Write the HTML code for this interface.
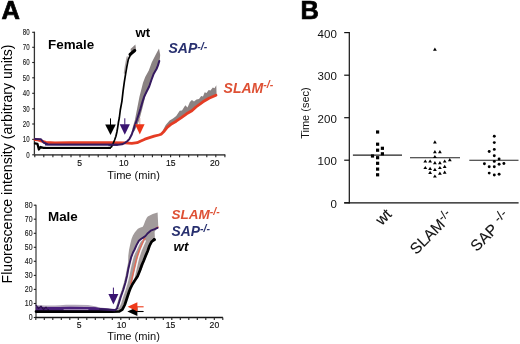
<!DOCTYPE html>
<html><head><meta charset="utf-8"><style>
html,body{margin:0;padding:0;background:#fff;}
svg{display:block;filter:blur(0.3px);}
text{font-family:"Liberation Sans", sans-serif;}
</style></head><body>
<svg width="520" height="344" viewBox="0 0 520 344" font-family='"Liberation Sans", sans-serif'>
<rect width="520" height="344" fill="#fff"/>
<text x="1.5" y="18.6" font-size="25.5" font-weight="bold" stroke="#000" stroke-width="0.7">A</text>
<text x="300.6" y="18.6" font-size="25.5" font-weight="bold" stroke="#000" stroke-width="0.7">B</text>
<text transform="translate(12.2,164) rotate(-90)" text-anchor="middle" font-size="14.1">Fluorescence intensity (arbitrary units)</text>
<line x1="34.4" y1="31.7" x2="34.4" y2="154.8" stroke="#333" stroke-width="1.3"/>
<line x1="33.9" y1="154.8" x2="225.3" y2="154.8" stroke="#5a5a5a" stroke-width="1.7"/>
<line x1="32.2" y1="154.8" x2="34.4" y2="154.8" stroke="#222" stroke-width="1.1"/>
<text transform="translate(29.6,157.7) scale(0.66,1)" text-anchor="end" font-size="9.3" fill="#222" stroke="#222" stroke-width="0.15">0</text>
<line x1="32.2" y1="139.4" x2="34.4" y2="139.4" stroke="#222" stroke-width="1.1"/>
<text transform="translate(29.6,142.3) scale(0.66,1)" text-anchor="end" font-size="9.3" fill="#222" stroke="#222" stroke-width="0.15">10</text>
<line x1="32.2" y1="124.0" x2="34.4" y2="124.0" stroke="#222" stroke-width="1.1"/>
<text transform="translate(29.6,126.9) scale(0.66,1)" text-anchor="end" font-size="9.3" fill="#222" stroke="#222" stroke-width="0.15">20</text>
<line x1="32.2" y1="108.8" x2="34.4" y2="108.8" stroke="#222" stroke-width="1.1"/>
<text transform="translate(29.6,111.7) scale(0.66,1)" text-anchor="end" font-size="9.3" fill="#222" stroke="#222" stroke-width="0.15">30</text>
<line x1="32.2" y1="93.3" x2="34.4" y2="93.3" stroke="#222" stroke-width="1.1"/>
<text transform="translate(29.6,96.2) scale(0.66,1)" text-anchor="end" font-size="9.3" fill="#222" stroke="#222" stroke-width="0.15">40</text>
<line x1="32.2" y1="77.8" x2="34.4" y2="77.8" stroke="#222" stroke-width="1.1"/>
<text transform="translate(29.6,80.7) scale(0.66,1)" text-anchor="end" font-size="9.3" fill="#222" stroke="#222" stroke-width="0.15">50</text>
<line x1="32.2" y1="62.5" x2="34.4" y2="62.5" stroke="#222" stroke-width="1.1"/>
<text transform="translate(29.6,65.4) scale(0.66,1)" text-anchor="end" font-size="9.3" fill="#222" stroke="#222" stroke-width="0.15">60</text>
<line x1="32.2" y1="47.3" x2="34.4" y2="47.3" stroke="#222" stroke-width="1.1"/>
<text transform="translate(29.6,50.2) scale(0.66,1)" text-anchor="end" font-size="9.3" fill="#222" stroke="#222" stroke-width="0.15">70</text>
<line x1="32.2" y1="32.3" x2="34.4" y2="32.3" stroke="#222" stroke-width="1.1"/>
<text transform="translate(29.6,35.2) scale(0.66,1)" text-anchor="end" font-size="9.3" fill="#222" stroke="#222" stroke-width="0.15">80</text>
<line x1="34.8" y1="154.8" x2="34.8" y2="157.2" stroke="#222" stroke-width="1.1"/>
<line x1="43.8" y1="154.8" x2="43.8" y2="157.2" stroke="#222" stroke-width="1.1"/>
<line x1="52.9" y1="154.8" x2="52.9" y2="157.2" stroke="#222" stroke-width="1.1"/>
<line x1="62.0" y1="154.8" x2="62.0" y2="157.2" stroke="#222" stroke-width="1.1"/>
<line x1="71.0" y1="154.8" x2="71.0" y2="157.2" stroke="#222" stroke-width="1.1"/>
<line x1="80.0" y1="154.8" x2="80.0" y2="157.2" stroke="#222" stroke-width="1.1"/>
<line x1="89.1" y1="154.8" x2="89.1" y2="157.2" stroke="#222" stroke-width="1.1"/>
<line x1="98.2" y1="154.8" x2="98.2" y2="157.2" stroke="#222" stroke-width="1.1"/>
<line x1="107.2" y1="154.8" x2="107.2" y2="157.2" stroke="#222" stroke-width="1.1"/>
<line x1="116.2" y1="154.8" x2="116.2" y2="157.2" stroke="#222" stroke-width="1.1"/>
<line x1="125.3" y1="154.8" x2="125.3" y2="157.2" stroke="#222" stroke-width="1.1"/>
<line x1="134.4" y1="154.8" x2="134.4" y2="157.2" stroke="#222" stroke-width="1.1"/>
<line x1="143.4" y1="154.8" x2="143.4" y2="157.2" stroke="#222" stroke-width="1.1"/>
<line x1="152.4" y1="154.8" x2="152.4" y2="157.2" stroke="#222" stroke-width="1.1"/>
<line x1="161.5" y1="154.8" x2="161.5" y2="157.2" stroke="#222" stroke-width="1.1"/>
<line x1="170.6" y1="154.8" x2="170.6" y2="157.2" stroke="#222" stroke-width="1.1"/>
<line x1="179.6" y1="154.8" x2="179.6" y2="157.2" stroke="#222" stroke-width="1.1"/>
<line x1="188.7" y1="154.8" x2="188.7" y2="157.2" stroke="#222" stroke-width="1.1"/>
<line x1="197.7" y1="154.8" x2="197.7" y2="157.2" stroke="#222" stroke-width="1.1"/>
<line x1="206.8" y1="154.8" x2="206.8" y2="157.2" stroke="#222" stroke-width="1.1"/>
<line x1="215.8" y1="154.8" x2="215.8" y2="157.2" stroke="#222" stroke-width="1.1"/>
<line x1="224.9" y1="154.8" x2="224.9" y2="157.2" stroke="#222" stroke-width="1.1"/>
<text x="79.6" y="165.6" text-anchor="middle" font-size="8.6" fill="#111" stroke="#111" stroke-width="0.15">5</text>
<text x="123.8" y="165.6" text-anchor="middle" font-size="8.6" fill="#111" stroke="#111" stroke-width="0.15">10</text>
<text x="170.8" y="165.6" text-anchor="middle" font-size="8.6" fill="#111" stroke="#111" stroke-width="0.15">15</text>
<text x="214.8" y="165.6" text-anchor="middle" font-size="8.6" fill="#111" stroke="#111" stroke-width="0.15">20</text>
<text x="107.3" y="178.8" font-size="11.1" fill="#111">Time (min)</text>
<line x1="36.0" y1="204.7" x2="36.0" y2="317.5" stroke="#7a7a7a" stroke-width="1.8"/>
<line x1="35.5" y1="317.5" x2="222.9" y2="317.5" stroke="#151515" stroke-width="1.4"/>
<line x1="33.8" y1="317.5" x2="36.0" y2="317.5" stroke="#222" stroke-width="1.1"/>
<text transform="translate(32.6,320.2) scale(0.82,1)" text-anchor="end" font-size="8.5" fill="#222" stroke="#222" stroke-width="0.15">0</text>
<line x1="33.8" y1="303.5" x2="36.0" y2="303.5" stroke="#222" stroke-width="1.1"/>
<text transform="translate(32.6,306.1) scale(0.82,1)" text-anchor="end" font-size="8.5" fill="#222" stroke="#222" stroke-width="0.15">10</text>
<line x1="33.8" y1="289.4" x2="36.0" y2="289.4" stroke="#222" stroke-width="1.1"/>
<text transform="translate(32.6,292.1) scale(0.82,1)" text-anchor="end" font-size="8.5" fill="#222" stroke="#222" stroke-width="0.15">20</text>
<line x1="33.8" y1="275.4" x2="36.0" y2="275.4" stroke="#222" stroke-width="1.1"/>
<text transform="translate(32.6,278.0) scale(0.82,1)" text-anchor="end" font-size="8.5" fill="#222" stroke="#222" stroke-width="0.15">30</text>
<line x1="33.8" y1="261.3" x2="36.0" y2="261.3" stroke="#222" stroke-width="1.1"/>
<text transform="translate(32.6,264.0) scale(0.82,1)" text-anchor="end" font-size="8.5" fill="#222" stroke="#222" stroke-width="0.15">40</text>
<line x1="33.8" y1="247.3" x2="36.0" y2="247.3" stroke="#222" stroke-width="1.1"/>
<text transform="translate(32.6,250.0) scale(0.82,1)" text-anchor="end" font-size="8.5" fill="#222" stroke="#222" stroke-width="0.15">50</text>
<line x1="33.8" y1="233.3" x2="36.0" y2="233.3" stroke="#222" stroke-width="1.1"/>
<text transform="translate(32.6,235.9) scale(0.82,1)" text-anchor="end" font-size="8.5" fill="#222" stroke="#222" stroke-width="0.15">60</text>
<line x1="33.8" y1="219.2" x2="36.0" y2="219.2" stroke="#222" stroke-width="1.1"/>
<text transform="translate(32.6,221.9) scale(0.82,1)" text-anchor="end" font-size="8.5" fill="#222" stroke="#222" stroke-width="0.15">70</text>
<line x1="33.8" y1="205.2" x2="36.0" y2="205.2" stroke="#222" stroke-width="1.1"/>
<text transform="translate(32.6,207.8) scale(0.82,1)" text-anchor="end" font-size="8.5" fill="#222" stroke="#222" stroke-width="0.15">80</text>
<line x1="35.8" y1="317.5" x2="35.8" y2="319.9" stroke="#222" stroke-width="1.1"/>
<line x1="44.3" y1="317.5" x2="44.3" y2="319.9" stroke="#222" stroke-width="1.1"/>
<line x1="52.8" y1="317.5" x2="52.8" y2="319.9" stroke="#222" stroke-width="1.1"/>
<line x1="61.3" y1="317.5" x2="61.3" y2="319.9" stroke="#222" stroke-width="1.1"/>
<line x1="69.8" y1="317.5" x2="69.8" y2="319.9" stroke="#222" stroke-width="1.1"/>
<line x1="78.3" y1="317.5" x2="78.3" y2="319.9" stroke="#222" stroke-width="1.1"/>
<line x1="86.8" y1="317.5" x2="86.8" y2="319.9" stroke="#222" stroke-width="1.1"/>
<line x1="95.3" y1="317.5" x2="95.3" y2="319.9" stroke="#222" stroke-width="1.1"/>
<line x1="103.8" y1="317.5" x2="103.8" y2="319.9" stroke="#222" stroke-width="1.1"/>
<line x1="112.3" y1="317.5" x2="112.3" y2="319.9" stroke="#222" stroke-width="1.1"/>
<line x1="120.8" y1="317.5" x2="120.8" y2="319.9" stroke="#222" stroke-width="1.1"/>
<line x1="129.3" y1="317.5" x2="129.3" y2="319.9" stroke="#222" stroke-width="1.1"/>
<line x1="137.8" y1="317.5" x2="137.8" y2="319.9" stroke="#222" stroke-width="1.1"/>
<line x1="146.3" y1="317.5" x2="146.3" y2="319.9" stroke="#222" stroke-width="1.1"/>
<line x1="154.8" y1="317.5" x2="154.8" y2="319.9" stroke="#222" stroke-width="1.1"/>
<line x1="163.3" y1="317.5" x2="163.3" y2="319.9" stroke="#222" stroke-width="1.1"/>
<line x1="171.8" y1="317.5" x2="171.8" y2="319.9" stroke="#222" stroke-width="1.1"/>
<line x1="180.3" y1="317.5" x2="180.3" y2="319.9" stroke="#222" stroke-width="1.1"/>
<line x1="188.8" y1="317.5" x2="188.8" y2="319.9" stroke="#222" stroke-width="1.1"/>
<line x1="197.3" y1="317.5" x2="197.3" y2="319.9" stroke="#222" stroke-width="1.1"/>
<line x1="205.8" y1="317.5" x2="205.8" y2="319.9" stroke="#222" stroke-width="1.1"/>
<line x1="214.3" y1="317.5" x2="214.3" y2="319.9" stroke="#222" stroke-width="1.1"/>
<line x1="222.8" y1="317.5" x2="222.8" y2="319.9" stroke="#222" stroke-width="1.1"/>
<text x="79.1" y="328.2" text-anchor="middle" font-size="8.6" fill="#111" stroke="#111" stroke-width="0.15">5</text>
<text x="121.5" y="328.2" text-anchor="middle" font-size="8.6" fill="#111" stroke="#111" stroke-width="0.15">10</text>
<text x="170.6" y="328.2" text-anchor="middle" font-size="8.6" fill="#111" stroke="#111" stroke-width="0.15">15</text>
<text x="214.4" y="328.2" text-anchor="middle" font-size="8.6" fill="#111" stroke="#111" stroke-width="0.15">20</text>
<text x="107.3" y="339.5" font-size="11.1" fill="#111">Time (min)</text>
<text x="48" y="48.5" font-size="13.4" font-weight="bold">Female</text>
<text x="48" y="221.3" font-size="13.4" font-weight="bold">Male</text>
<text x="135.4" y="36.6" font-size="13.2" font-weight="bold">wt</text>
<text x="168.5" y="52.5" font-size="14" font-weight="bold" font-style="italic" fill="#28306f">SAP<tspan font-size="10.5" dy="-3">-/-</tspan></text>
<text x="223.6" y="92.5" font-size="14" font-weight="bold" font-style="italic" fill="#de5034">SLAM<tspan font-size="10.5" dy="-5">-/-</tspan></text>
<text x="171.6" y="218.9" font-size="13.5" font-weight="bold" font-style="italic" fill="#de5034">SLAM<tspan font-size="10.5" dy="-3.5">-/-</tspan></text>
<text x="171.6" y="235.6" font-size="13.8" font-weight="bold" font-style="italic" fill="#28306f">SAP<tspan font-size="10.5" dy="-4">-/-</tspan></text>
<text x="173.6" y="250.9" font-size="13.3" font-weight="bold" font-style="italic" fill="#000">wt</text>
<polygon points="162.0,132.0 165.7,125.1 169.6,120.5 173.0,118.5 176.2,116.0 179.7,110.8 182.0,110.5 185.3,105.2 187.5,107.5 189.9,102.0 191.9,100.0 194.0,101.5 196.5,99.5 199.0,99.0 201.2,96.0 203.0,96.5 204.7,92.2 206.5,93.0 208.7,89.9 210.5,90.5 212.8,87.6 214.5,88.3 216.3,85.2 216.6,95.3 209.0,98.2 203.0,101.8 196.0,107.0 191.9,110.7 186.6,113.8 181.4,117.6 176.2,121.2 170.9,124.4 167.0,127.0 163.1,132.3" fill="#8a8282" />
<polyline points="35.0,139.6 38.0,139.8 41.0,140.8 45.8,142.4 55.0,142.8 70.0,142.6 90.0,142.7 110.0,142.6 125.0,142.9 131.8,143.4 137.2,142.7 140.3,141.2 144.9,139.2 149.5,137.7 154.2,136.2 158.8,135.0 161.1,134.2 164.2,131.2 167.2,127.3 170.9,124.4 176.2,121.2 181.4,117.6 186.6,113.8 191.9,110.7 196.0,107.0 203.0,101.8 209.0,98.2 216.0,95.3" fill="none" stroke="#e53c24" stroke-width="2.8" stroke-linejoin="round" stroke-linecap="round" />
<polygon points="159.0,48.6 160.2,55.0 159.6,61.0 158.3,65.4 156.8,69.0 153.9,74.1 151.7,80.0 149.6,86.5 146.6,92.3 145.3,96.6 142.4,108.3 139.3,119.9 137.3,125.0 134.5,131.0 131.5,133.0 132.8,127.0 134.9,119.9 137.2,108.3 139.5,96.6 140.8,91.6 143.0,82.8 145.2,77.0 148.8,70.5 151.7,62.5 155.4,55.2" fill="#8a8282" />
<polyline points="35.0,139.0 41.0,139.3 43.5,142.5 48.0,144.5 60.0,144.7 80.0,144.7 110.0,144.7 118.0,144.7 122.0,144.3 125.0,142.8 127.5,141.0 129.5,138.8 131.6,134.8 133.5,129.5 135.0,125.0 136.8,120.0 138.8,114.0 140.6,108.3 142.4,102.0 144.2,96.6 146.3,92.3 149.2,86.5 151.4,80.0 153.6,74.1 156.5,69.0 158.0,65.4 159.3,61.0" fill="none" stroke="#35195f" stroke-width="2.0" stroke-linejoin="round" stroke-linecap="round" />
<polygon points="130.6,49.0 135.4,44.5 136.0,49.8 131.0,54.0" fill="#8a8282" />
<polyline points="127.2,57.0 126.6,60.0 125.4,66.4 124.4,73.0" fill="none" stroke="#aaa2a2" stroke-width="1.3" stroke-linejoin="round" stroke-linecap="round" />
<polyline points="35.0,143.4 37.4,143.8 38.9,149.5 40.5,147.0 43.5,147.9 60.0,147.8 90.0,147.9 110.0,147.9" fill="none" stroke="#000" stroke-width="2.3" stroke-linejoin="round" stroke-linecap="round" />
<polyline points="90.0,147.9 110.0,147.9 111.5,146.8 113.1,143.5 114.6,140.0 115.9,136.2 116.9,132.0 117.7,127.3 118.5,122.0 119.3,118.0 120.3,110.0 121.9,101.3 123.1,90.8 124.3,82.1 125.7,73.4 126.9,66.4 128.3,59.4 130.9,54.2 134.6,50.0" fill="none" stroke="#000" stroke-width="1.7" stroke-linejoin="round" stroke-linecap="round" />
<polyline points="130.0,54.5 134.8,50.5" fill="none" stroke="#000" stroke-width="3" stroke-linejoin="round" stroke-linecap="round" />
<polyline points="46.0,144.7 80.0,144.7 117.0,144.8" fill="none" stroke="#35195f" stroke-width="2.1" stroke-linejoin="round" stroke-linecap="round" />
<polyline points="46.0,146.2 108.0,146.2" fill="none" stroke="#f4f0f4" stroke-width="0.9" stroke-linejoin="round" stroke-linecap="round" />
<line x1="110.5" y1="118.4" x2="110.5" y2="125.0" stroke="#000" stroke-width="1"/><polygon points="105.2,124.5 115.8,124.5 110.5,135" fill="#000"/>
<line x1="124.8" y1="118.3" x2="124.8" y2="124.8" stroke="#3a1470" stroke-width="1"/><polygon points="119.7,124.3 129.9,124.3 124.8,134.8" fill="#3a1470"/>
<line x1="139.8" y1="118.0" x2="139.8" y2="124.8" stroke="#d8a8a0" stroke-width="1"/><polygon points="135.0,124.3 144.6,124.3 139.8,134.5" fill="#ec3518"/>
<polygon points="157.6,212.4 152.7,213.9 150.7,214.9 147.8,216.4 146.8,217.8 145.3,220.8 143.8,224.8 142.8,226.7 139.9,227.7 137.9,228.7 134.9,232.2 132.9,235.6 131.5,239.0 130.0,245.3 129.0,250.0 128.3,255.8 128.1,262.5 126.8,269.0 125.5,276.0 123.8,283.0 121.7,290.0 119.2,297.0 117.3,303.3 115.6,308.5 121.0,311.0 123.5,307.5 126.0,302.0 128.5,295.0 131.0,288.0 134.0,283.0 137.0,279.0 140.5,272.0 143.5,265.0 145.5,259.0 148.0,253.0 150.0,248.0 151.5,243.5 153.5,241.5 155.0,240.0 154.6,231.7 156.7,228.7 158.3,226.7" fill="#a29b9b" />
<polygon points="35.8,304.3 38.0,305.3 41.0,305.2 45.0,305.6 55.0,305.6 60.0,305.2 66.0,304.8 75.0,304.7 88.0,305.0 95.0,306.3 100.0,307.6 110.0,308.4 116.0,309.0 116.0,311.0 35.8,311.0" fill="#b3a8ba" />
<polygon points="35.8,306.5 48.0,307.2 95.0,307.5 116.0,309.3 116.0,311.5 35.8,311.5" fill="#4a2278" />
<polyline points="36.0,305.2 38.5,308.6 41.0,306.2 43.5,309.6 46.0,307.2 48.5,309.8" fill="none" stroke="#2a0e48" stroke-width="1.1" stroke-linejoin="round" stroke-linecap="round" />
<polyline points="48.0,308.0 60.0,307.8 70.0,307.7 85.0,307.8 95.0,308.2 100.0,309.3 114.8,310.1" fill="none" stroke="#4a1f7c" stroke-width="1.8" stroke-linejoin="round" stroke-linecap="round" />
<polyline points="64.0,309.7 88.0,309.7" fill="none" stroke="#cbb8d6" stroke-width="0.8" stroke-linejoin="round" stroke-linecap="round" />
<polyline points="118.5,307.0 120.4,303.3 122.3,297.0 124.8,290.0 126.9,283.0 128.6,276.0 129.9,269.0 131.4,262.5 132.9,256.8 134.6,252.5 136.2,249.5 138.1,245.1 140.5,240.7 142.5,239.2" fill="none" stroke="#f6f2f7" stroke-width="1.7" stroke-linejoin="round" stroke-linecap="round" />
<polyline points="132.6,284.0 134.3,276.0 135.8,269.5 137.6,261.6 139.0,256.4 141.1,250.3 143.3,245.1 145.2,241.0" fill="none" stroke="#fbf5f5" stroke-width="1.5" stroke-linejoin="round" stroke-linecap="round" />
<polyline points="130.8,284.0 132.5,276.0 134.0,269.5 135.8,261.6 137.2,256.4 139.3,250.3 141.5,245.1 143.7,239.8 145.0,238.5" fill="none" stroke="#e86a55" stroke-width="1.3" stroke-linejoin="round" stroke-linecap="round" />
<polyline points="155.5,228.4 158.0,227.2" fill="none" stroke="#e87a6a" stroke-width="1.6" stroke-linejoin="round" stroke-linecap="round" />
<polyline points="36.0,311.6 60.0,311.7 100.0,311.7 112.4,311.7 119.4,311.4 122.3,309.7 124.7,305.0 126.2,300.5 127.6,296.3 129.0,292.0 130.5,288.1 132.3,284.5 134.6,280.8 137.6,276.3 140.2,269.8 142.0,264.5 143.7,260.8 145.4,256.4 147.6,251.2 149.4,246.0 151.5,241.8 154.3,239.6" fill="none" stroke="#000" stroke-width="2.7" stroke-linejoin="round" stroke-linecap="round" />
<circle cx="154.2" cy="239.6" r="1.6" fill="#000"/>
<polyline points="100.0,309.3 114.8,310.2 117.1,308.5 118.8,303.3 120.7,297.0 123.2,290.0 125.3,283.0 127.0,276.0 128.3,269.0 129.8,262.5 131.3,256.8 133.0,252.5 134.6,249.5 136.5,245.1 138.9,240.7 141.0,239.0 143.5,237.4 145.5,236.0 147.8,233.2 150.7,230.7 154.7,229.2 157.5,227.8" fill="none" stroke="#35195f" stroke-width="1.9" stroke-linejoin="round" stroke-linecap="round" />
<line x1="113.4" y1="287.6" x2="113.4" y2="294.5" stroke="#3a1470" stroke-width="1"/><polygon points="108.4,294 118.4,294 113.4,304.4" fill="#3a1470"/>
<line x1="136.9" y1="311.5" x2="143.6" y2="311.5" stroke="#000" stroke-width="1.1"/><polygon points="137.4,306.9 137.4,316.1 127.3,311.5" fill="#000"/>
<line x1="136.9" y1="306.8" x2="143.6" y2="306.8" stroke="#ee3a1a" stroke-width="1.1"/><polygon points="137.4,302.2 137.4,311.4 127.6,306.8" fill="#ee3a1a"/>
<line x1="349.3" y1="32" x2="349.3" y2="203.4" stroke="#111" stroke-width="1.2"/>
<line x1="344.2" y1="202.8" x2="518.6" y2="202.8" stroke="#111" stroke-width="1.3"/>
<line x1="344.2" y1="202.8" x2="349.3" y2="202.8" stroke="#111" stroke-width="1.2"/>
<text x="336.8" y="207.8" text-anchor="end" font-size="11.5" fill="#111">0</text>
<line x1="344.2" y1="160.2" x2="349.3" y2="160.2" stroke="#111" stroke-width="1.2"/>
<text x="336.8" y="165.2" text-anchor="end" font-size="11.5" fill="#111">100</text>
<line x1="344.2" y1="117.7" x2="349.3" y2="117.7" stroke="#111" stroke-width="1.2"/>
<text x="336.8" y="122.7" text-anchor="end" font-size="11.5" fill="#111">200</text>
<line x1="344.2" y1="75.2" x2="349.3" y2="75.2" stroke="#111" stroke-width="1.2"/>
<text x="336.8" y="80.2" text-anchor="end" font-size="11.5" fill="#111">300</text>
<line x1="344.2" y1="32.6" x2="349.3" y2="32.6" stroke="#111" stroke-width="1.2"/>
<text x="336.8" y="37.6" text-anchor="end" font-size="11.5" fill="#111">400</text>
<text transform="translate(309.4,113.1) rotate(-90)" text-anchor="middle" font-size="11" fill="#111">Time (sec)</text>
<line x1="352.9" y1="155.1" x2="402" y2="155.1" stroke="#222" stroke-width="1.1"/>
<line x1="410" y1="157.8" x2="460" y2="157.8" stroke="#222" stroke-width="1.1"/>
<line x1="469.3" y1="160.3" x2="518.5" y2="160.3" stroke="#222" stroke-width="1.1"/>
<rect x="376.0" y="130.4" width="3.2" height="3.2" fill="#000"/>
<rect x="376.0" y="142.6" width="3.2" height="3.2" fill="#000"/>
<rect x="380.8" y="146.7" width="3.2" height="3.2" fill="#000"/>
<rect x="376.0" y="148.6" width="3.2" height="3.2" fill="#000"/>
<rect x="380.8" y="152.2" width="3.2" height="3.2" fill="#000"/>
<rect x="370.9" y="154.4" width="3.2" height="3.2" fill="#000"/>
<rect x="376.0" y="156.1" width="3.2" height="3.2" fill="#000"/>
<rect x="376.0" y="161.7" width="3.2" height="3.2" fill="#000"/>
<rect x="376.0" y="167.5" width="3.2" height="3.2" fill="#000"/>
<rect x="376.0" y="173.2" width="3.2" height="3.2" fill="#000"/>
<polygon points="433.0,50.8 436.8,50.8 434.9,47.6" fill="#000"/>
<polygon points="433.0,143.5 436.8,143.5 434.9,140.3" fill="#000"/>
<polygon points="433.0,153.3 436.8,153.3 434.9,150.1" fill="#000"/>
<polygon points="438.0,153.3 441.8,153.3 439.9,150.1" fill="#000"/>
<polygon points="433.0,158.1 436.8,158.1 434.9,154.9" fill="#000"/>
<polygon points="423.4,162.6 427.2,162.6 425.3,159.4" fill="#000"/>
<polygon points="428.2,162.6 432.0,162.6 430.1,159.4" fill="#000"/>
<polygon points="433.0,164.3 436.8,164.3 434.9,161.1" fill="#000"/>
<polygon points="438.0,164.3 441.8,164.3 439.9,161.1" fill="#000"/>
<polygon points="442.8,162.6 446.6,162.6 444.7,159.4" fill="#000"/>
<polygon points="447.9,161.3 451.7,161.3 449.8,158.1" fill="#000"/>
<polygon points="423.4,169.1 427.2,169.1 425.3,165.9" fill="#000"/>
<polygon points="428.2,169.9 432.0,169.9 430.1,166.7" fill="#000"/>
<polygon points="433.0,170.9 436.8,170.9 434.9,167.7" fill="#000"/>
<polygon points="438.0,169.1 441.8,169.1 439.9,165.9" fill="#000"/>
<polygon points="442.8,168.0 446.6,168.0 444.7,164.8" fill="#000"/>
<polygon points="428.2,173.9 432.0,173.9 430.1,170.7" fill="#000"/>
<polygon points="438.0,174.7 441.8,174.7 439.9,171.5" fill="#000"/>
<polygon points="442.8,173.8 446.6,173.8 444.7,170.6" fill="#000"/>
<polygon points="433.0,177.6 436.8,177.6 434.9,174.4" fill="#000"/>
<circle cx="494.3" cy="136.2" r="1.45" fill="#000"/>
<circle cx="494.3" cy="142.6" r="1.45" fill="#000"/>
<circle cx="494.3" cy="149.4" r="1.45" fill="#000"/>
<circle cx="489.2" cy="151.5" r="1.45" fill="#000"/>
<circle cx="494.3" cy="155.8" r="1.45" fill="#000"/>
<circle cx="499.1" cy="159" r="1.45" fill="#000"/>
<circle cx="494.3" cy="161.4" r="1.45" fill="#000"/>
<circle cx="484.4" cy="163.8" r="1.45" fill="#000"/>
<circle cx="499.1" cy="164.3" r="1.45" fill="#000"/>
<circle cx="503.9" cy="163.5" r="1.45" fill="#000"/>
<circle cx="489.2" cy="166.7" r="1.45" fill="#000"/>
<circle cx="494.3" cy="166.7" r="1.45" fill="#000"/>
<circle cx="489.2" cy="173.1" r="1.45" fill="#000"/>
<circle cx="494.3" cy="175" r="1.45" fill="#000"/>
<circle cx="499.1" cy="174.2" r="1.45" fill="#000"/>
<text transform="translate(392.5,215.2) rotate(-45)" text-anchor="end" font-size="15.3" fill="#111" stroke="#111" stroke-width="0.12">wt</text>
<text transform="translate(454,217.3) rotate(-45)" text-anchor="end" font-size="15.5" fill="#111" stroke="#111" stroke-width="0.12">SLAM<tspan font-size="12" dy="-5">-/-</tspan></text>
<text transform="translate(511,218) rotate(-45)" text-anchor="end" font-size="15.5" fill="#111" stroke="#111" stroke-width="0.12">SAP <tspan font-size="13" dy="-5" dx="1">-/-</tspan></text>
</svg>
</body></html>
